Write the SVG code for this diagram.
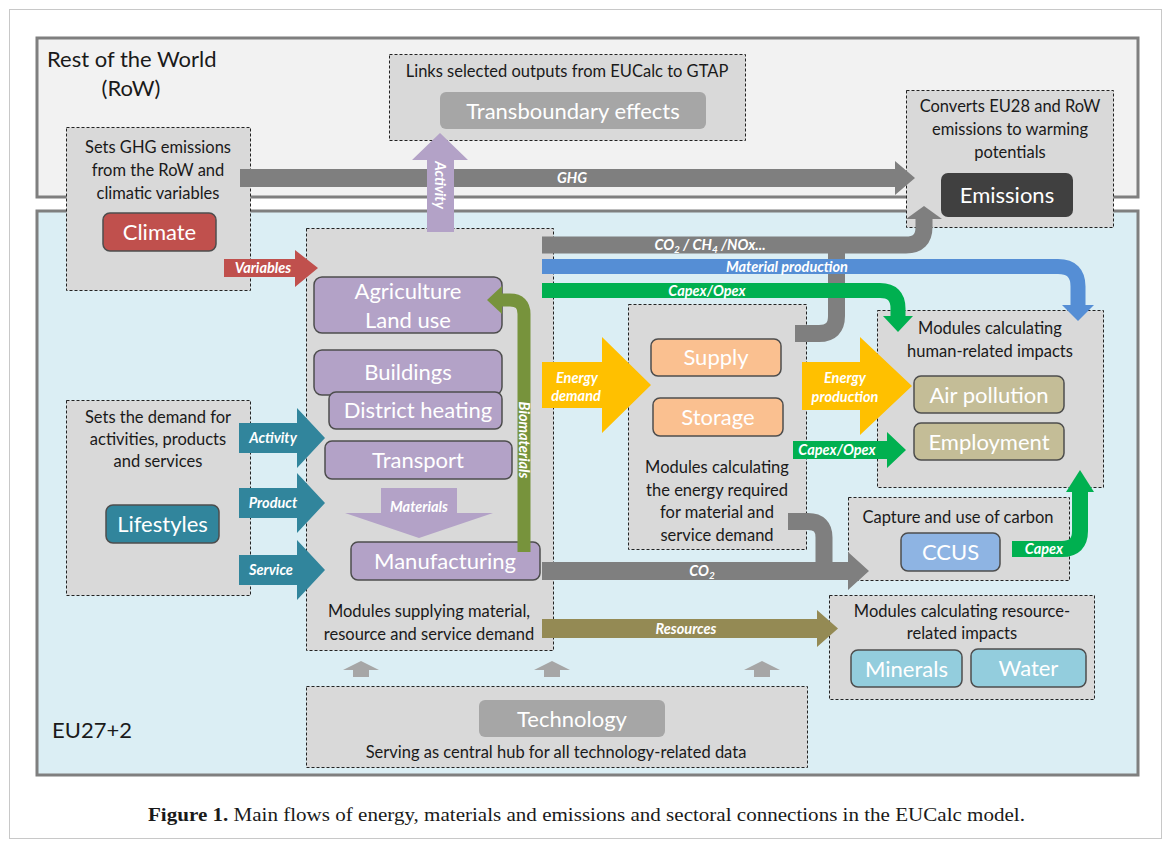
<svg xmlns="http://www.w3.org/2000/svg" width="1171" height="847" viewBox="0 0 1171 847">
<style>
.dash{fill:#d9d9d9;stroke:#222;stroke-width:1;stroke-dasharray:3,2}
.lbl{font-family:Lato,"Open Sans",sans-serif;font-size:16.5px;fill:#1a1a1a;text-anchor:middle}
.mod{font-family:Lato,"Open Sans",sans-serif;font-size:22px;fill:#fff;text-anchor:middle}
.ar{font-family:Lato,"Open Sans",sans-serif;font-size:14.5px;font-style:italic;font-weight:bold;fill:#fff;text-anchor:middle}
.box{stroke:#4d4d4d;stroke-width:1.5}
.pipe{fill:none;stroke-linejoin:round}
</style>
<rect x="0" y="0" width="1171" height="847" fill="#fff"/>
<rect x="9.5" y="9.5" width="1152" height="829" fill="none" stroke="#c8c8c8" stroke-width="1"/>

<g id="row">
<rect x="37" y="38" width="1101" height="159" fill="#f2f2f2" stroke="#7f7f7f" stroke-width="3"/>
<text x="47" y="67" font-family="Lato,'Open Sans',sans-serif" font-size="22" fill="#1a1a1a">Rest of the World</text>
<text x="131" y="96" font-family="Lato,'Open Sans',sans-serif" font-size="22" fill="#1a1a1a" text-anchor="middle">(RoW)</text>
</g>
<g id="eu">
<rect x="37" y="211" width="1101" height="564" fill="#dbeef4" stroke="#7f7f7f" stroke-width="3"/>
<text x="52" y="738" font-family="Lato,'Open Sans',sans-serif" font-size="22" fill="#1a1a1a">EU27+2</text>
</g>

<g id="climate">
<rect class="dash" x="66.5" y="127.5" width="184" height="163"/>
<text class="lbl" x="158" y="153">Sets GHG emissions</text>
<text class="lbl" x="158" y="176">from the RoW and</text>
<text class="lbl" x="158" y="199">climatic variables</text>
<rect class="box" x="103" y="213" width="113" height="38" rx="7" fill="#c0504d"/>
<text class="mod" x="159.5" y="240">Climate</text>
</g>

<g id="transboundary">
<rect class="dash" x="389.5" y="54.5" width="356" height="86"/>
<text class="lbl" x="567" y="77">Links selected outputs from EUCalc to GTAP</text>
<rect x="440" y="92" width="266" height="37" rx="6" fill="#a6a6a6"/>
<text class="mod" x="573" y="119">Transboundary effects</text>
</g>

<g id="emissions">
<rect class="dash" x="906.5" y="90.5" width="207" height="137"/>
<text class="lbl" x="1010" y="112">Converts EU28 and RoW</text>
<text class="lbl" x="1010" y="135">emissions to warming</text>
<text class="lbl" x="1010" y="158">potentials</text>
<rect x="941" y="173" width="132" height="44" rx="7" fill="#404040"/>
<text class="mod" x="1007" y="203">Emissions</text>
</g>

<g id="supply-modules">
<rect class="dash" x="306.5" y="228.5" width="247" height="422"/>
<rect class="box" x="314" y="277" width="188" height="56" rx="8" fill="#b3a2c7"/>
<text class="mod" x="408" y="299">Agriculture</text>
<text class="mod" x="408" y="328">Land use</text>
<rect class="box" x="314" y="350" width="188" height="45" rx="8" fill="#b3a2c7"/>
<text class="mod" x="408" y="380">Buildings</text>
<rect class="box" x="329" y="392" width="173" height="37" rx="7" fill="#b3a2c7"/>
<text class="mod" x="418" y="418">District heating</text>
<rect class="box" x="325" y="441" width="187" height="38" rx="7" fill="#b3a2c7"/>
<text class="mod" x="418" y="468">Transport</text>
<path d="M381,488 H457 V513 H493 L419,538 L345,513 H381 Z" fill="#b3a2c7"/>
<text class="ar" x="419" y="512">Materials</text>
<rect class="box" x="351" y="542" width="189" height="38" rx="7" fill="#b3a2c7"/>
<text class="mod" x="445" y="569">Manufacturing</text>
<text class="lbl" x="429" y="617">Modules supplying  material,</text>
<text class="lbl" x="429" y="640">resource and service demand</text>
</g>

<g id="energy-modules">
<rect class="dash" x="628.5" y="304.5" width="178" height="245"/>
<rect class="box" x="651" y="339" width="130" height="37" rx="7" fill="#fac090"/>
<text class="mod" x="716" y="365">Supply</text>
<rect class="box" x="653" y="398" width="130" height="38" rx="7" fill="#fac090"/>
<text class="mod" x="718" y="425">Storage</text>
<text class="lbl" x="717" y="473">Modules calculating</text>
<text class="lbl" x="717" y="496">the energy required</text>
<text class="lbl" x="717" y="518">for material and</text>
<text class="lbl" x="717" y="541">service demand</text>
</g>

<g id="human-impacts">
<rect class="dash" x="877.5" y="310.5" width="226" height="177"/>
<text class="lbl" x="990" y="334">Modules calculating</text>
<text class="lbl" x="990" y="357">human-related impacts</text>
<rect class="box" x="914" y="376" width="150" height="37" rx="7" fill="#c4bd97"/>
<text class="mod" x="989" y="403">Air pollution</text>
<rect class="box" x="914" y="423" width="150" height="37" rx="7" fill="#c4bd97"/>
<text class="mod" x="989" y="450">Employment</text>
</g>

<g id="ccus">
<rect class="dash" x="848.5" y="497.5" width="221" height="83"/>
<text class="lbl" x="958" y="523">Capture and use of carbon</text>
<rect class="box" x="901" y="533" width="99" height="38" rx="7" fill="#8eb4e3"/>
<text class="mod" x="950.5" y="560">CCUS</text>
</g>

<g id="resource-impacts">
<rect class="dash" x="829.5" y="595.5" width="265" height="104"/>
<text class="lbl" x="962" y="617">Modules calculating resource-</text>
<text class="lbl" x="962" y="639">related impacts</text>
<rect class="box" x="851" y="650" width="111" height="37" rx="7" fill="#93cddd"/>
<text class="mod" x="906.5" y="677">Minerals</text>
<rect class="box" x="971" y="649" width="115" height="38" rx="7" fill="#93cddd"/>
<text class="mod" x="1028.5" y="676">Water</text>
</g>

<g id="lifestyles">
<rect class="dash" x="66.5" y="400.5" width="184" height="195"/>
<text class="lbl" x="158" y="423">Sets the demand for</text>
<text class="lbl" x="158" y="445">activities, products</text>
<text class="lbl" x="158" y="467">and services</text>
<rect class="box" x="106" y="505" width="113" height="38" rx="7" fill="#31859c"/>
<text class="mod" x="162.5" y="532">Lifestyles</text>
</g>

<g id="technology">
<rect class="dash" x="306.5" y="686.5" width="501" height="81"/>
<rect x="479" y="700" width="186" height="37" rx="6" fill="#a6a6a6"/>
<text class="mod" x="572" y="727">Technology</text>
<text class="lbl" x="556" y="758">Serving as central hub for all technology-related  data</text>
</g>

<g id="connectors">
<path d="M240,169 H895 V161 L915,178 L895,195 V187 H240 Z" fill="#7f7f7f"/>
<text class="ar" x="572" y="183">GHG</text>
<path d="M427,232 V160 H412 L440,133 L468,160 H454 V232 Z" fill="#b3a2c7"/>
<text class="ar" transform="translate(435,185) rotate(90)">Activity</text>
<path class="pipe" d="M542,245 H906 Q924,245 924,227 V218" stroke="#7f7f7f" stroke-width="17"/>
<path d="M906,219 L924,206 L942,219 Z" fill="#7f7f7f"/>
<path class="pipe" d="M795,333.5 H819 Q836.5,333.5 836.5,316 V252" stroke="#7f7f7f" stroke-width="17"/>
<text class="ar" x="710" y="250">CO<tspan font-size="10" dy="3">2</tspan><tspan dy="-3"> / CH</tspan><tspan font-size="10" dy="3">4</tspan><tspan dy="-3"> /NOx...</tspan></text>
<path class="pipe" d="M542,266.5 H1058 Q1078,266.5 1078,286.5 V306" stroke="#558ed5" stroke-width="15"/>
<path d="M1062,305 L1094,305 L1078,321 Z" fill="#558ed5"/>
<text class="ar" x="787" y="272">Material production</text>
<path class="pipe" d="M542,290.5 H880 Q898,290.5 898,308.5 V317" stroke="#00b050" stroke-width="15"/>
<path d="M883,316 L913,316 L898,332 Z" fill="#00b050"/>
<text class="ar" x="707" y="296">Capex/Opex</text>
<path d="M224,259 H295 V250 L318,268 L295,287 V277 H224 Z" fill="#c0504d"/>
<text class="ar" x="263" y="273">Variables</text>
<path d="M239,423 H297 V408 L325,438 L297,468 V453 H239 Z" fill="#31859c"/>
<text class="ar" x="273" y="443">Activity</text>
<path d="M239,488 H297 V473 L325,503 L297,533 V518 H239 Z" fill="#31859c"/>
<text class="ar" x="273" y="508">Product</text>
<path d="M239,555 H297 V540 L325,570 L297,600 V585 H239 Z" fill="#31859c"/>
<text class="ar" x="271" y="575">Service</text>
<path class="pipe" d="M524,552 V314 Q524,300 510,300 H500" stroke="#77933c" stroke-width="13"/>
<path d="M502,286 L487,300 L502,314 Z" fill="#77933c"/>
<text class="ar" font-size="13.5" transform="translate(519,440) rotate(90)">Biomaterials</text>
<path d="M542,362 H602 V337 L651,385 L602,433 V408 H542 Z" fill="#ffc000"/>
<text class="ar" x="577" y="383" font-size="17">Energy</text>
<text class="ar" x="576" y="401" font-size="12.5">demand</text>
<path d="M802,362 H860 V337 L912,386 L860,435 V410 H802 Z" fill="#ffc000"/>
<text class="ar" x="845" y="383" font-size="17">Energy</text>
<text class="ar" x="845" y="402" font-size="12.5">production</text>
<path d="M793,441 H887 V432 L906,450 L887,468 V459 H793 Z" fill="#00b050"/>
<text class="ar" x="837" y="455">Capex/Opex</text>
<path class="pipe" d="M788,521.5 H808 Q824,521.5 824,537.5 V563" stroke="#7f7f7f" stroke-width="17"/>
<path d="M542,562 H848 V552 L869,571 L848,590 V580 H542 Z" fill="#7f7f7f"/>
<text class="ar" x="702" y="576">CO<tspan font-size="10" dy="3">2</tspan></text>
<path class="pipe" d="M1012,549 H1062 Q1080,549 1080,531 V491" stroke="#00b050" stroke-width="16"/>
<path d="M1066,492 L1094,492 L1080,470 Z" fill="#00b050"/>
<text class="ar" x="1044" y="554">Capex</text>
<path d="M542,619 H817 V610 L838,628.5 L817,647 V638 H542 Z" fill="#948a54"/>
<text class="ar" x="686" y="634">Resources</text>
<path d="M343,670 L361,661 L379,670 H369 V677 H353 V670 Z" fill="#a6a6a6"/>
<path d="M534,670 L552,661 L570,670 H560 V677 H544 V670 Z" fill="#a6a6a6"/>
<path d="M744,670 L762,661 L780,670 H770 V677 H754 V670 Z" fill="#a6a6a6"/>
</g>

<text x="148" y="821" font-family="'Liberation Serif',serif" font-size="19.5" fill="#1a1a1a" textLength="877" lengthAdjust="spacingAndGlyphs"><tspan font-weight="bold">Figure 1.</tspan> Main flows of energy, materials and emissions and sectoral connections in the EUCalc model.</text>
</svg>
